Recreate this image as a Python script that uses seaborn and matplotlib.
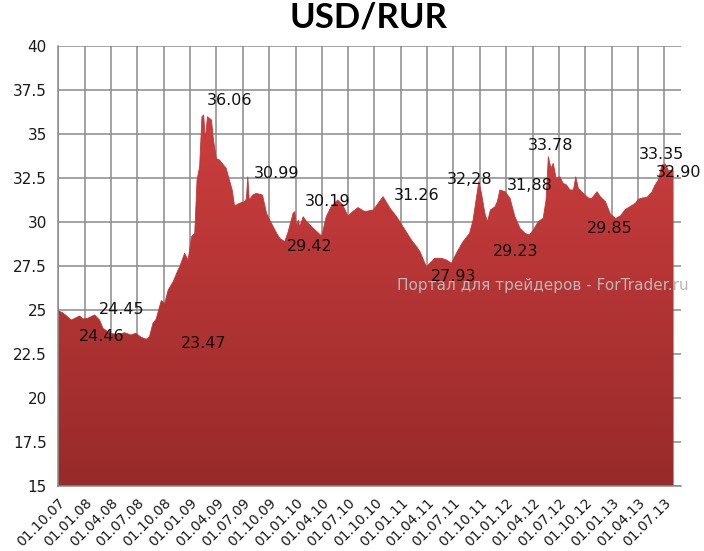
import matplotlib
matplotlib.use("Agg")
import numpy as np
import pandas as pd
import seaborn as sns
import matplotlib.pyplot as plt
import matplotlib.dates as mdates
from matplotlib.colors import LinearSegmentedColormap
from matplotlib.ticker import FuncFormatter

# ---- data ----
dates = [
    "2007-10-01", "2007-10-15", "2007-11-02", "2007-11-15", "2007-11-30", "2007-12-14", "2007-12-25",
    "2008-01-11", "2008-02-04", "2008-02-21", "2008-03-04", "2008-03-27", "2008-04-24", "2008-05-17",
    "2008-06-09", "2008-06-26", "2008-07-14", "2008-08-01", "2008-08-12", "2008-08-24", "2008-09-04",
    "2008-09-16", "2008-09-22", "2008-10-04", "2008-10-16", "2008-11-02", "2008-11-19", "2008-11-25",
    "2008-12-07", "2008-12-12", "2008-12-24", "2009-01-05", "2009-01-16", "2009-01-24", "2009-02-02",
    "2009-02-10", "2009-02-16", "2009-02-22", "2009-03-01", "2009-03-15", "2009-03-22", "2009-04-01",
    "2009-04-12", "2009-04-21", "2009-05-05", "2009-05-16", "2009-05-26", "2009-06-03", "2009-06-20",
    "2009-07-07", "2009-07-14", "2009-07-19", "2009-07-24", "2009-08-05", "2009-08-17", "2009-09-08",
    "2009-09-22", "2009-10-03", "2009-10-15", "2009-10-27", "2009-11-07", "2009-11-24", "2009-12-06",
    "2009-12-23", "2009-12-29", "2010-01-04", "2010-01-10", "2010-01-15", "2010-01-27", "2010-02-08",
    "2010-03-03", "2010-04-01", "2010-04-17", "2010-05-04", "2010-05-27", "2010-06-13", "2010-07-01",
    "2010-07-18", "2010-08-05", "2010-08-28", "2010-09-27", "2010-10-14", "2010-10-31", "2010-11-24",
    "2010-12-17", "2011-01-15", "2011-02-06", "2011-02-24", "2011-03-08", "2011-03-30", "2011-04-11",
    "2011-04-28", "2011-05-21", "2011-06-08", "2011-06-25", "2011-07-12", "2011-08-04", "2011-08-27",
    "2011-09-08", "2011-09-20", "2011-09-28", "2011-10-07", "2011-10-19", "2011-10-28", "2011-11-07",
    "2011-11-23", "2011-12-01", "2011-12-10", "2011-12-28", "2012-01-14", "2012-01-31", "2012-02-18",
    "2012-03-06", "2012-03-21", "2012-04-04", "2012-04-21", "2012-05-08", "2012-05-18", "2012-05-26",
    "2012-06-04", "2012-06-12", "2012-06-22", "2012-07-05", "2012-07-16", "2012-07-28", "2012-08-09",
    "2012-08-21", "2012-08-29", "2012-09-07", "2012-09-24", "2012-10-13", "2012-10-24", "2012-11-11",
    "2012-11-22", "2012-12-10", "2012-12-27", "2013-01-14", "2013-01-31", "2013-02-16", "2013-03-05",
    "2013-03-23", "2013-04-04", "2013-04-16", "2013-05-03", "2013-05-20", "2013-05-31", "2013-06-12",
    "2013-06-24", "2013-07-05", "2013-07-17", "2013-07-28", "2013-08-03",
]
rates = [
    24.95, 24.85, 24.62, 24.43, 24.55, 24.66, 24.49,
    24.53, 24.72, 24.43, 23.96, 23.70, 23.58, 23.71,
    23.58, 23.68, 23.45, 23.34, 23.48, 24.24, 24.47,
    25.19, 25.53, 25.38, 26.14, 26.60, 27.27, 27.46,
    28.00, 28.22, 27.84, 29.17, 29.36, 32.39, 33.14,
    35.98, 36.08, 34.66, 35.98, 35.80, 34.66, 33.60,
    33.52, 33.33, 33.05, 32.39, 31.82, 30.91, 31.06,
    31.15, 31.30, 32.57, 31.25, 31.53, 31.63, 31.53,
    30.49, 30.11, 29.73, 29.36, 29.07, 28.88, 29.45,
    30.49, 30.59, 29.73, 30.11, 29.73, 30.30, 30.02,
    29.64, 29.20, 30.30, 30.87, 31.25, 30.97, 30.34,
    30.59, 30.82, 30.59, 30.68, 31.06, 31.44, 30.78,
    30.30, 29.55, 28.98, 28.60, 28.31, 27.46, 27.65,
    27.94, 27.94, 27.84, 27.65, 28.22, 28.88, 29.36,
    30.11, 31.44, 32.29, 31.63, 30.49, 30.02, 30.68,
    30.87, 31.15, 31.82, 31.72, 31.35, 30.30, 29.64,
    29.36, 29.26, 29.55, 30.02, 30.21, 31.25, 33.71,
    33.05, 33.33, 32.48, 32.57, 32.20, 32.10, 31.82,
    31.82, 32.57, 31.91, 31.63, 31.35, 31.35, 31.72,
    31.44, 31.15, 30.45, 30.20, 30.35, 30.70, 30.87,
    31.06, 31.30, 31.36, 31.40, 31.70, 32.10, 32.40,
    33.24, 33.30, 32.90, 32.95, 32.90,
]

tick_dates = [
    "2007-10-01", "2008-01-01", "2008-04-01", "2008-07-01", "2008-10-01", "2009-01-01",
    "2009-04-01", "2009-07-01", "2009-10-01", "2010-01-01", "2010-04-01", "2010-07-01",
    "2010-10-01", "2011-01-01", "2011-04-01", "2011-07-01", "2011-10-01", "2012-01-01",
    "2012-04-01", "2012-07-01", "2012-10-01", "2013-01-01", "2013-04-01", "2013-07-01",
]
y_ticks = [15, 17.5, 20, 22.5, 25, 27.5, 30, 32.5, 35, 37.5, 40]

label_texts = ["24.46", "24.45", "23.47", "36.06", "30.99", "29.42", "30.19", "31.26",
               "27.93", "32,28", "31,88", "29.23", "33.78", "29.85", "33.35", "32.90"]
label_dates = ["2008-02-27", "2008-05-09", "2009-02-16", "2009-05-16", "2009-10-27", "2010-02-18",
               "2010-04-20", "2011-02-23", "2011-07-03", "2011-08-26", "2012-03-24", "2012-02-03",
               "2012-06-04", "2012-12-25", "2013-06-21", "2013-08-20"]
label_values = [23.48, 25.0, 23.11, 36.93, 32.78, 28.6, 31.15, 31.53,
                26.89, 32.39, 32.05, 28.31, 34.32, 29.64, 33.81, 32.8]

df = pd.DataFrame({"date": pd.to_datetime(dates), "rate": rates})

# ---- figure ----
sns.set_style("white")
plt.rcParams["font.family"] = ["DejaVu Sans"]

fig = plt.figure(figsize=(7.04, 5.51), dpi=100)
ax = fig.add_axes([0.0824, 0.118, 0.885, 0.7985])

ymin, ymax = 15, 40
xleft = mdates.date2num(pd.Timestamp("2007-09-30"))
xright = mdates.date2num(pd.Timestamp("2013-08-29"))

# outline
sns.lineplot(data=df, x="date", y="rate", ax=ax, color="#c03838", lw=0.6, zorder=3)

# area with vertical gradient
poly = ax.fill_between(df["date"], df["rate"], ymin, facecolor="none", edgecolor="none", zorder=2)
cmap = LinearSegmentedColormap.from_list("g", ["#982a2a", "#cd3e3e"])
grad = np.linspace(0, 1, 256).reshape(-1, 1)
x0 = mdates.date2num(df["date"].iloc[0])
x1 = mdates.date2num(df["date"].iloc[-1])
im = ax.imshow(grad, extent=[x0, x1, ymin, max(rates)], origin="lower", aspect="auto",
               cmap=cmap, zorder=2, interpolation="bilinear")
im.set_clip_path(poly.get_paths()[0], transform=ax.transData)

ax.set_xlim(xleft, xright)
ax.set_ylim(ymin, ymax)

ax.xaxis_date()
ax.set_xticks(pd.to_datetime(tick_dates))
ax.xaxis.set_major_formatter(mdates.DateFormatter("%d.%m.%y"))
ax.set_yticks(y_ticks)
ax.yaxis.set_major_formatter(FuncFormatter(lambda v, p: f"{v:g}"))
ax.set_xlabel("")
ax.set_ylabel("")

ax.grid(True, color="#8a8a8a", lw=1.1)
ax.set_axisbelow(True)
for s in ["top", "right"]:
    ax.spines[s].set_visible(False)
for s in ["left", "bottom"]:
    ax.spines[s].set_color("#8a8a8a")
    ax.spines[s].set_linewidth(1.1)

ax.tick_params(axis="both", direction="out", length=5, width=1, color="#8a8a8a")
ax.tick_params(axis="y", labelsize=11, labelcolor="#1a1a1a", pad=3)
ax.tick_params(axis="x", labelsize=10, labelcolor="#1a1a1a", pad=2)
for lab in ax.get_xticklabels():
    lab.set_rotation(45)
    lab.set_ha("right")
    lab.set_rotation_mode("anchor")

# value labels
for t, d, v in zip(label_texts, label_dates, label_values):
    ax.text(pd.Timestamp(d), v, t, ha="center", va="center", fontsize=11.5,
            color="#111111", zorder=5, clip_on=False)

# title
fig.text(0.524, 0.969, "USD/RUR", ha="center", va="center", fontsize=25,
         fontweight="bold", family="Lato", color="#000000")

# watermark
fig.text(0.7706, 0.481, "Портал для трейдеров - ForTrader.ru", ha="center", va="center",
         fontsize=11, color="#b8b8b8", zorder=10)

fig.savefig("out.png", dpi=100)
